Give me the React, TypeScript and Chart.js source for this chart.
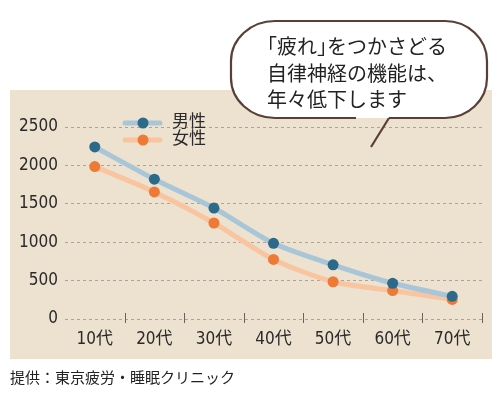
import { useEffect, useRef } from "react";
import { Chart, registerables } from "chart.js";

Chart.register(...registerables);

// 年代ごとの値
const ageGroups = ["10代", "20代", "30代", "40代", "50代", "60代", "70代"];
const maleValues = [2240, 1820, 1445, 985, 705, 465, 295];
const femaleValues = [1985, 1655, 1250, 775, 485, 370, 255];
const seriesNames = ["男性", "女性"];
const yTicks = [0, 500, 1000, 1500, 2000, 2500];

const caption = "提供：東京疲労・睡眠クリニック";

const NUM_FONT =
  '"Liberation Sans Narrow", "DejaVu Sans Condensed", "Noto Sans CJK JP", sans-serif';
const JP_FONT = '"Noto Sans CJK JP", "Noto Sans", sans-serif';

const markerColors = ["#2b6a89", "#ee7a36"];
const lineColors = ["#a8c6d8", "#f8c5a0"];

// x軸の区切り線（0の線をまたぐ短い縦線）
const tickMarks = {
  id: "tickMarks",
  afterDraw(chart: any) {
    const xs = chart.scales.x;
    const ys = chart.scales.y;
    const ctx = chart.ctx;
    const half = (xs.getPixelForValue(1) - xs.getPixelForValue(0)) / 2;
    const y0 = ys.getPixelForValue(0);
    ctx.save();
    ctx.strokeStyle = "#6a625a";
    ctx.lineWidth = 1;
    ageGroups.forEach((_, i) => {
      const x = Math.round(xs.getPixelForValue(i) + half) + 0.5;
      ctx.beginPath();
      ctx.moveTo(x, y0 - 6);
      ctx.lineTo(x, y0 + 4);
      ctx.stroke();
    });
    ctx.restore();
  },
};

// 凡例（グラフ内左上）
const innerLegend = {
  id: "innerLegend",
  afterDatasetsDraw(chart: any) {
    const ctx = chart.ctx;
    const left = chart.chartArea.left;
    ctx.save();
    chart.data.datasets.forEach((ds: any, i: number) => {
      const y = 33 + i * 17;
      ctx.strokeStyle = ds.borderColor;
      ctx.lineWidth = 5;
      ctx.lineCap = "round";
      ctx.beginPath();
      ctx.moveTo(left + 60, y);
      ctx.lineTo(left + 95, y);
      ctx.stroke();
      ctx.fillStyle = ds.pointBackgroundColor;
      ctx.beginPath();
      ctx.arc(left + 78, y, 5.5, 0, Math.PI * 2);
      ctx.fill();
      ctx.fillStyle = "#2a2a2a";
      ctx.font = `17px ${JP_FONT}`;
      ctx.textBaseline = "middle";
      ctx.textAlign = "left";
      ctx.fillText(ds.label, left + 107, y - 2);
    });
    ctx.restore();
  },
};

function FatigueChart() {
  const chartRef = useRef<HTMLCanvasElement>(null);
  const chartInstance = useRef<Chart | null>(null);

  useEffect(() => {
    if (!chartRef.current) return;
    if (chartInstance.current) chartInstance.current.destroy();

    chartInstance.current = new Chart(chartRef.current, {
      type: "line",
      data: {
        labels: ageGroups,
        datasets: [maleValues, femaleValues].map((values, i) => ({
          label: seriesNames[i],
          data: values,
          borderColor: lineColors[i],
          borderWidth: 5,
          borderCapStyle: "round",
          tension: 0.25,
          pointRadius: 5.5,
          pointBorderWidth: 0,
          pointBackgroundColor: markerColors[i],
          fill: false,
        })),
      },
      options: {
        animation: false,
        responsive: true,
        maintainAspectRatio: false,
        layout: { padding: { top: 37, right: 10, left: 0, bottom: 0 } },
        plugins: {
          legend: { display: false },
          tooltip: { enabled: false },
        },
        scales: {
          x: {
            offset: true,
            grid: { display: false },
            border: { display: false },
            ticks: {
              color: "#2a2a2a",
              font: { family: NUM_FONT, size: 17 },
              padding: 2,
              maxRotation: 0,
            },
            afterFit: (s: any) => {
              s.height = 40;
            },
          },
          y: {
            min: 0,
            max: 2500,
            afterBuildTicks: (s: any) => {
              s.ticks = yTicks.map((v) => ({ value: v }));
            },
            grid: {
              color: "rgba(125,112,100,0.55)",
              lineWidth: 1,
              drawTicks: false,
            },
            border: { display: false, dash: [3, 3] },
            ticks: {
              color: "#2a2a2a",
              font: { family: NUM_FONT, size: 17 },
              padding: 7,
              callback: (v: any) => String(v),
            },
            afterFit: (s: any) => {
              s.width = 55;
            },
          },
        },
      },
      plugins: [tickMarks, innerLegend],
    });

    return () => {
      if (chartInstance.current) {
        chartInstance.current.destroy();
        chartInstance.current = null;
      }
    };
  }, []);

  return (
    <div
      style={{
        position: "absolute",
        left: 10,
        top: 90,
        width: 482,
        height: 269,
        background: "#ede1cf",
      }}
    >
      <canvas ref={chartRef} />
    </div>
  );
}

function SpeechBubble() {
  const outline =
    "M389 118 L445 118 A42 40 0 0 0 487 78 L487 61 A42 40 0 0 0 445 21 L275 21 A44 40 0 0 0 231 61 L231 78 A44 40 0 0 0 275 118 L356 118";
  const half = { display: "inline-block", width: 10, overflow: "visible" as const };
  return (
    <>
      <svg
        width={500}
        height={400}
        style={{ position: "absolute", left: 0, top: 0, pointerEvents: "none" }}
      >
        <path d={outline} fill="#ffffff" stroke="none" />
        <path d={outline} fill="none" stroke="#5a3f37" strokeWidth={2.2} />
        <line x1={389} y1={118} x2={371} y2={147} stroke="#5a3f37" strokeWidth={2.2} />
      </svg>
      <div
        style={{
          position: "absolute",
          left: 267,
          top: 33,
          fontFamily: JP_FONT,
          fontSize: 20,
          lineHeight: "26.5px",
          color: "#222",
          whiteSpace: "nowrap",
        }}
      >
        <div>
          <span style={{ ...half, marginLeft: -10 }}>「</span>
          <span style={{ marginLeft: 10 }}>疲れ</span>
          <span style={{ ...half }}>」</span>をつかさどる
        </div>
        <div>自律神経の機能は、</div>
        <div>年々低下します</div>
      </div>
    </>
  );
}

export default function App() {
  return (
    <div
      style={{
        position: "fixed",
        left: 0,
        top: 0,
        width: 500,
        height: 400,
        background: "#ffffff",
        overflow: "hidden",
      }}
    >
      <FatigueChart />
      <SpeechBubble />
      <div
        style={{
          position: "absolute",
          left: 10,
          top: 366,
          fontFamily: JP_FONT,
          fontSize: 15,
          lineHeight: "22px",
          color: "#222",
          whiteSpace: "nowrap",
        }}
      >
        {caption}
      </div>
    </div>
  );
}
